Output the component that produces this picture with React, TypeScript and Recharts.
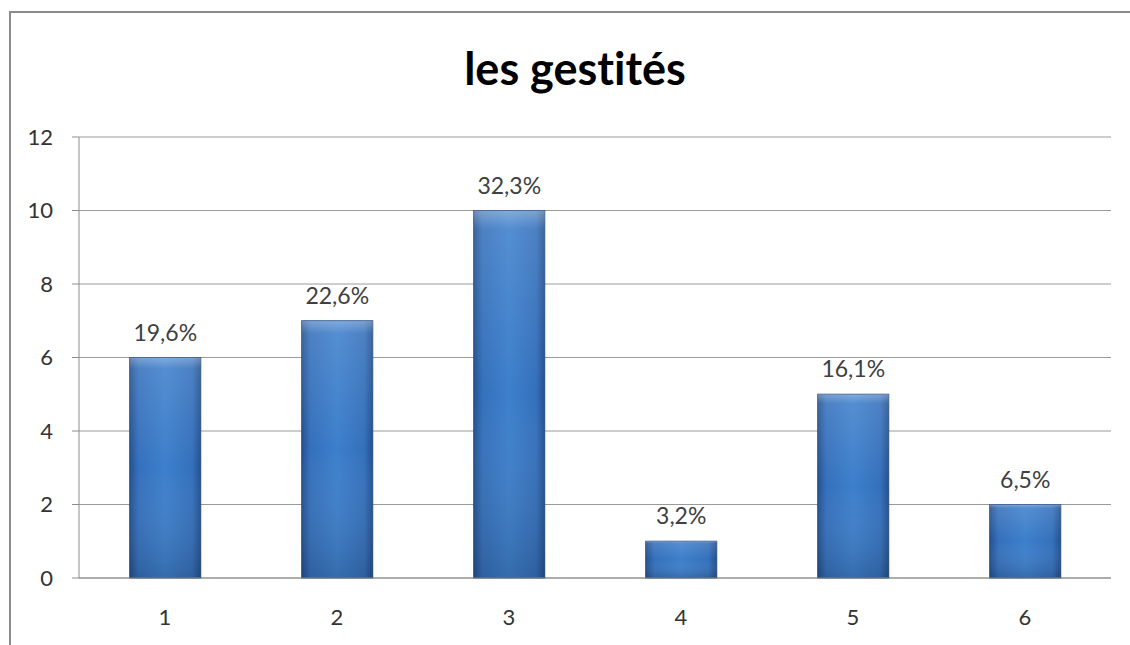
import React from 'react';
import { BarChart, Bar, XAxis, YAxis, CartesianGrid, LabelList } from 'recharts';

// gestité categories and counts
const categories = ['1', '2', '3', '4', '5', '6'];
const counts = [6, 7, 10, 1, 5, 2];
const percents = ['19,6%', '22,6%', '32,3%', '3,2%', '16,1%', '6,5%'];
const yTicks = [0, 2, 4, 6, 8, 10, 12];

const data = categories.map((c, i) => ({ name: c, value: counts[i], pct: percents[i] }));

const FONT = 'Lato, "Open Sans", sans-serif';

// bar with side shading plus a light top edge, like the office 3d style
const ShadedBar = (props: any) => {
  const { x, y, width, height } = props;
  if (!height || height <= 0) return null;
  return (
    <g>
      <rect x={x} y={y} width={width} height={height} fill="url(#barH)" stroke="#234b85" strokeWidth={1} />
      <rect x={x} y={y} width={width} height={height} fill="url(#barV)" />
    </g>
  );
};

const App: React.FC = () => {
  return (
    <div style={{ position: 'absolute', left: 0, top: 0, width: 1130, height: 645, overflow: 'hidden', background: '#fff', fontFamily: FONT }}>
      <div style={{ position: 'absolute', left: 9, top: 11, width: 1130, height: 2, background: '#8c8c8c' }} />
      <div style={{ position: 'absolute', left: 9, top: 11, width: 2, height: 640, background: '#8c8c8c' }} />
      <div
        style={{
          position: 'absolute', left: 10, top: 41, width: 1130, textAlign: 'center',
          fontSize: 45, lineHeight: '54px', fontWeight: 'bold', color: '#000',
          fontVariantLigatures: 'none', fontFeatureSettings: '"liga" 0',
        }}
      >
        les gestités
      </div>
      <div style={{ position: 'absolute', left: 0, top: 0 }}>
        <BarChart
          width={1130}
          height={645}
          data={data}
          margin={{ top: 137, right: 19, bottom: 27, left: 0 }}
          barCategoryGap="29.5%"
        >
          <defs>
            <linearGradient id="barH" x1="0" y1="0" x2="1" y2="0">
              <stop offset="0%" stopColor="#24508f" />
              <stop offset="12%" stopColor="#3470bb" />
              <stop offset="50%" stopColor="#3d7fcc" />
              <stop offset="88%" stopColor="#3470bb" />
              <stop offset="100%" stopColor="#24508f" />
            </linearGradient>
            <linearGradient id="barV" x1="0" y1="0" x2="0" y2="1">
              <stop offset="0%" stopColor="#ffffff" stopOpacity={0.35} />
              <stop offset="5%" stopColor="#ffffff" stopOpacity={0.12} />
              <stop offset="50%" stopColor="#ffffff" stopOpacity={0} />
              <stop offset="100%" stopColor="#000000" stopOpacity={0.15} />
            </linearGradient>
          </defs>
          <CartesianGrid vertical={false} stroke="#9a9a9a" />
          <XAxis
            dataKey="name"
            height={40}
            axisLine={{ stroke: '#8c8c8c' }}
            tickLine={false}
            tickMargin={25}
            tick={{ fill: '#333', fontSize: 22, fontFamily: FONT }}
          />
          <YAxis
            width={79}
            domain={[0, 12]}
            ticks={yTicks}
            axisLine={{ stroke: '#8c8c8c' }}
            tickLine={{ stroke: '#8c8c8c' }}
            tickSize={7}
            tickMargin={19}
            tick={{ fill: '#333', fontSize: 22, fontFamily: FONT }}
          />
          <Bar dataKey="value" fill="#3a78c6" shape={ShadedBar} isAnimationActive={false}>
            <LabelList dataKey="pct" position="top" offset={17} fill="#404040" fontSize={23} fontFamily={FONT} />
          </Bar>
        </BarChart>
      </div>
    </div>
  );
};

export default App;
